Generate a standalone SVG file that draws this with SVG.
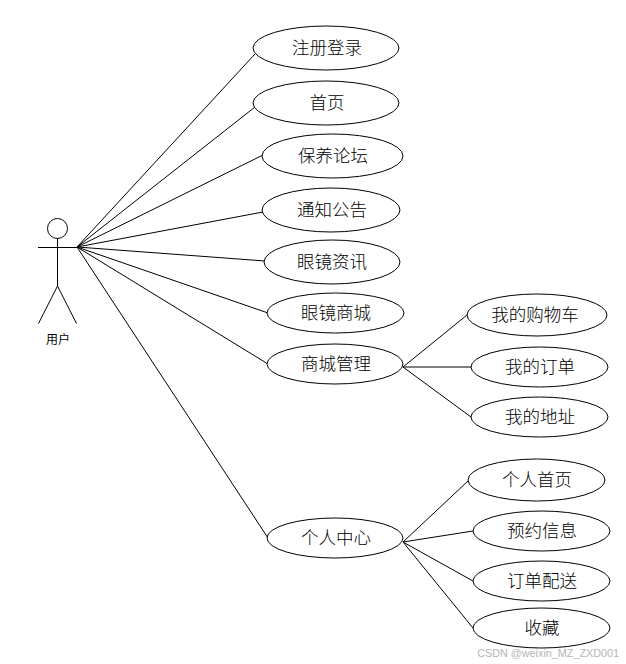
<svg xmlns="http://www.w3.org/2000/svg" width="626" height="664" viewBox="0 0 626 664">
<style>
.n{fill:#fff;stroke:#000;stroke-width:1}
.c{fill:none;stroke:#000;stroke-width:1}
.t{font-family:"Noto Sans CJK SC","Liberation Sans",sans-serif;font-size:17.500px;font-weight:300;fill:#000;text-anchor:middle;dominant-baseline:central}
</style>
<rect width="626" height="664" fill="#fff"/>
<g id="connectors" class="c">
<path d="M77 247L255 54M77 247L255 107M77 247L263 155M77 247L263 212M77 247L265 261M77 247L268 313M77 247L268 364M77 247L268 538"/>
<path d="M403 367L467 315M403 367L471 367M403 367L471 417"/>
<path d="M403 542L468 481M403 542L473 531M403 542L473 581M403 542L473 628"/>
</g>
<g id="actor" class="c">
<circle cx="57.500" cy="228.500" r="10"/>
<path d="M57.500 238.500V286M38 247.500H77M57.500 286L38.500 323.500M57.500 286L76.500 323.500"/>
<text x="58" y="338" class="t" style="font-size:12px;font-weight:400" stroke="none">用户</text>
</g>
<g id="n1"><ellipse class="n" cx="326" cy="48" rx="73" ry="22"/><text class="t" x="327" y="46.500">注册登录</text></g>
<g id="n2"><ellipse class="n" cx="326" cy="103" rx="73" ry="22"/><text class="t" x="327" y="101.500">首页</text></g>
<g id="n3"><ellipse class="n" cx="332.500" cy="156" rx="70.500" ry="22"/><text class="t" x="333" y="154.500">保养论坛</text></g>
<g id="n4"><ellipse class="n" cx="331" cy="210" rx="69" ry="22"/><text class="t" x="332" y="208.500">通知公告</text></g>
<g id="n5"><ellipse class="n" cx="332" cy="262" rx="68" ry="22"/><text class="t" x="332" y="260.500">眼镜资讯</text></g>
<g id="n6"><ellipse class="n" cx="335.500" cy="313" rx="68.500" ry="20"/><text class="t" x="336" y="311.500">眼镜商城</text></g>
<g id="n7"><ellipse class="n" cx="335" cy="364" rx="68" ry="20"/><text class="t" x="336" y="362.500">商城管理</text></g>
<g id="n8"><ellipse class="n" cx="335" cy="538" rx="68" ry="20"/><text class="t" x="336" y="536.500">个人中心</text></g>
<g id="n9"><ellipse class="n" cx="537" cy="315" rx="70" ry="21"/><text class="t" x="535" y="313.500">我的购物车</text></g>
<g id="n10"><ellipse class="n" cx="539.500" cy="367" rx="68.500" ry="20"/><text class="t" x="540" y="365.500">我的订单</text></g>
<g id="n11"><ellipse class="n" cx="539.500" cy="417" rx="68.500" ry="20"/><text class="t" x="540" y="415.500">我的地址</text></g>
<g id="n12"><ellipse class="n" cx="536.500" cy="480" rx="68.500" ry="21"/><text class="t" x="537" y="478.500">个人首页</text></g>
<g id="n13"><ellipse class="n" cx="541.500" cy="531" rx="68.500" ry="20"/><text class="t" x="542" y="529.500">预约信息</text></g>
<g id="n14"><ellipse class="n" cx="541.500" cy="581" rx="68.500" ry="20"/><text class="t" x="542" y="579.500">订单配送</text></g>
<g id="n15"><ellipse class="n" cx="541.500" cy="628" rx="68.500" ry="20"/><text class="t" x="542" y="626.500">收藏</text></g>
<text x="619" y="657" text-anchor="end" style="font-family:'Liberation Sans',sans-serif;font-size:10.800px;fill:#b5b5b5">CSDN @weixin_MZ_ZXD001</text>
</svg>
